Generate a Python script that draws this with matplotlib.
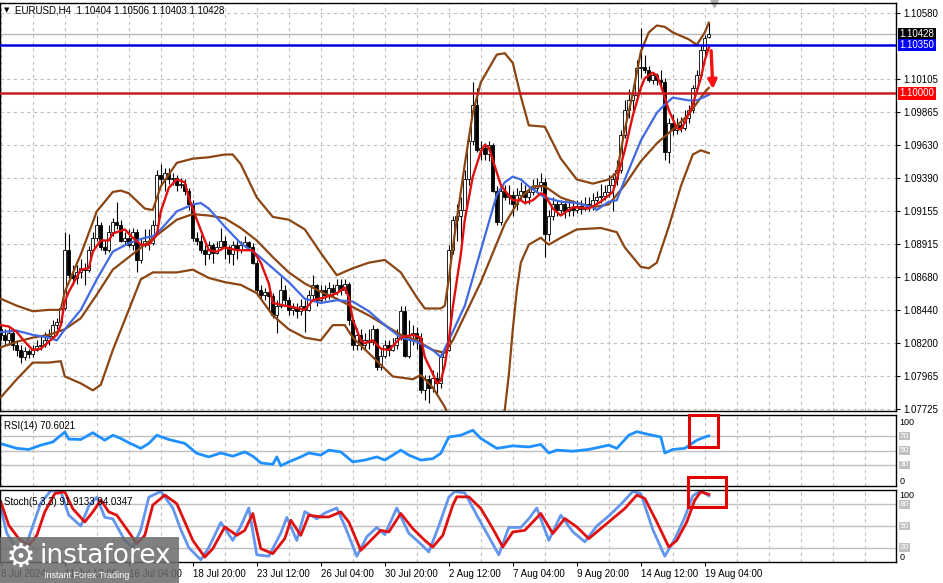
import matplotlib.pyplot as plt
from matplotlib.patches import Rectangle
from matplotlib.transforms import blended_transform_factory

plt.rcParams['font.family'] = ['Liberation Sans', 'DejaVu Sans']

# EURUSD H4 candles, bar 0 = 8 Jul 2024 20:00
opens = [1.0830, 1.0826, 1.0822, 1.0827, 1.0819, 1.0815, 1.0810, 1.0814, 1.0812, 1.0815,
         1.0818, 1.0819, 1.0822, 1.0825, 1.0833, 1.0835, 1.0845, 1.0887, 1.0869, 1.0867,
         1.0871, 1.0874, 1.0873, 1.0887, 1.0896, 1.0905, 1.0889, 1.0887, 1.0900, 1.0907,
         1.0905, 1.0894, 1.0896, 1.0891, 1.0900, 1.0880, 1.0891, 1.0894, 1.0892, 1.0905,
         1.0941, 1.0938, 1.0943, 1.0938, 1.0939, 1.0934, 1.0935, 1.0930, 1.0920, 1.0896,
         1.0894, 1.0887, 1.0884, 1.0891, 1.0885, 1.0889, 1.0894, 1.0889, 1.0884, 1.0891,
         1.0887, 1.0891, 1.0893, 1.0889, 1.0878, 1.0858, 1.0855, 1.0857, 1.0854, 1.0840,
         1.0847, 1.0858, 1.0851, 1.0844, 1.0845, 1.0843, 1.0847, 1.0844, 1.0855, 1.0862,
         1.0851, 1.0858, 1.0855, 1.0860, 1.0857, 1.0862, 1.0858, 1.0863, 1.0837, 1.0819,
         1.0826, 1.0819, 1.0822, 1.0821, 1.0830, 1.0803, 1.0811, 1.0819, 1.0815, 1.0819,
         1.0824, 1.0843, 1.0811, 1.0826, 1.0827, 1.0824, 1.0786, 1.0794, 1.0788, 1.0795,
         1.0791, 1.0810, 1.0815, 1.0887, 1.0909, 1.0912, 1.0916, 1.0938, 1.0966, 1.0992,
         1.0959, 1.0961, 1.0956, 1.0963, 1.0930, 1.0907, 1.0930, 1.0925, 1.0927, 1.0920,
         1.0927, 1.0930, 1.0925, 1.0929, 1.0932, 1.0934, 1.0936, 1.0899, 1.0912, 1.0920,
         1.0916, 1.0920, 1.0915, 1.0918, 1.0916, 1.0919, 1.0917, 1.0920, 1.0918, 1.0923,
         1.0925, 1.0926, 1.0929, 1.0934, 1.0938, 1.0945, 1.0970, 1.0988, 1.0995, 1.0999,
         1.1018, 1.1019, 1.1017, 1.1010, 1.1013, 1.1010, 1.1008, 1.0958, 1.0979, 1.0974,
         1.0977, 1.0975, 1.0982, 1.0988, 1.1004, 1.1013, 1.1031, 1.10404]
highs = [1.0833, 1.0830, 1.0831, 1.0830, 1.0822, 1.0819, 1.0817, 1.0816, 1.0819, 1.0822,
         1.0826, 1.0828, 1.0830, 1.0837, 1.0838, 1.0849, 1.0900, 1.0899, 1.0876, 1.0876,
         1.0881, 1.0878, 1.0890, 1.0900, 1.0912, 1.0907, 1.0894, 1.0905, 1.0910, 1.0922,
         1.0909, 1.0900, 1.0902, 1.0903, 1.0902, 1.0896, 1.0902, 1.0902, 1.0909, 1.0945,
         1.0949, 1.0946, 1.0946, 1.0943, 1.0941, 1.0939, 1.0938, 1.0932, 1.0923, 1.0900,
         1.0898, 1.0891, 1.0894, 1.0892, 1.0894, 1.0903, 1.0897, 1.0891, 1.0894, 1.0894,
         1.0894, 1.0897, 1.0894, 1.0892, 1.0880, 1.0862, 1.0860, 1.0860, 1.0856, 1.0851,
         1.0868, 1.0862, 1.0853, 1.0849, 1.0849, 1.0852, 1.0851, 1.0858, 1.0869, 1.0863,
         1.0862, 1.0862, 1.0864, 1.0863, 1.0866, 1.0866, 1.0866, 1.0864, 1.0838, 1.0831,
         1.0830, 1.0827, 1.0830, 1.0833, 1.0831, 1.0815, 1.0822, 1.0822, 1.0824, 1.0830,
         1.0847, 1.0847, 1.0837, 1.0833, 1.0832, 1.0827, 1.0797, 1.0797, 1.0801, 1.0799,
         1.0814, 1.0819, 1.0891, 1.0912, 1.0920, 1.0925, 1.0945, 1.0974, 1.1008, 1.1004,
         1.0966, 1.0964, 1.0966, 1.0964, 1.0933, 1.0934, 1.0934, 1.0934, 1.0930, 1.0932,
         1.0936, 1.0934, 1.0932, 1.0938, 1.0939, 1.0943, 1.0939, 1.0916, 1.0925, 1.0923,
         1.0923, 1.0923, 1.0922, 1.0923, 1.0923, 1.0923, 1.0925, 1.0925, 1.0928, 1.0930,
         1.0935, 1.0934, 1.0941, 1.0943, 1.0952, 1.0974, 1.0995, 1.1003, 1.1006, 1.1024,
         1.1047, 1.1028, 1.1020, 1.1015, 1.1015, 1.1017, 1.1011, 1.0982, 1.0985, 1.0982,
         1.0983, 1.0988, 1.0992, 1.1006, 1.1017, 1.1035, 1.1042, 1.10506]
lows = [1.0822, 1.0819, 1.0819, 1.0815, 1.0811, 1.0806, 1.0808, 1.0809, 1.0810, 1.0814,
        1.0815, 1.0817, 1.0819, 1.0824, 1.0830, 1.0833, 1.0844, 1.0867, 1.0862, 1.0863,
        1.0867, 1.0862, 1.0871, 1.0886, 1.0894, 1.0887, 1.0884, 1.0886, 1.0897, 1.0902,
        1.0893, 1.0891, 1.0889, 1.0887, 1.0871, 1.0878, 1.0889, 1.0887, 1.0891, 1.0903,
        1.0934, 1.0930, 1.0935, 1.0934, 1.0930, 1.0932, 1.0927, 1.0916, 1.0894, 1.0891,
        1.0885, 1.0876, 1.0881, 1.0878, 1.0884, 1.0887, 1.0881, 1.0878, 1.0876, 1.0881,
        1.0885, 1.0889, 1.0887, 1.0877, 1.0855, 1.0852, 1.0851, 1.0844, 1.0838, 1.0827,
        1.0845, 1.0847, 1.0840, 1.0840, 1.0838, 1.0840, 1.0828, 1.0843, 1.0852, 1.0847,
        1.0849, 1.0851, 1.0852, 1.0853, 1.0855, 1.0855, 1.0856, 1.0833, 1.0815, 1.0815,
        1.0815, 1.0815, 1.0816, 1.0819, 1.0801, 1.0801, 1.0809, 1.0811, 1.0814, 1.0816,
        1.0822, 1.0810, 1.0809, 1.0819, 1.0816, 1.0784, 1.0779, 1.0777, 1.0785, 1.0783,
        1.0788, 1.0804, 1.0814, 1.0884, 1.0894, 1.0894, 1.0912, 1.0934, 1.0963, 1.0958,
        1.0952, 1.0952, 1.0951, 1.0929, 1.0905, 1.0905, 1.0923, 1.0920, 1.0912, 1.0916,
        1.0923, 1.0920, 1.0920, 1.0927, 1.0928, 1.0930, 1.0882, 1.0894, 1.0909, 1.0912,
        1.0914, 1.0910, 1.0912, 1.0912, 1.0914, 1.0913, 1.0915, 1.0915, 1.0916, 1.0920,
        1.0921, 1.0923, 1.0925, 1.0915, 1.0934, 1.0943, 1.0968, 1.0982, 1.0985, 1.0995,
        1.1011, 1.1015, 1.1008, 1.1007, 1.1006, 1.1003, 1.0952, 1.0950, 1.0970, 1.0971,
        1.0972, 1.0974, 1.0979, 1.0986, 1.1001, 1.1011, 1.1028, 1.10403]
closes = [1.0826, 1.0822, 1.0827, 1.0819, 1.0815, 1.0810, 1.0814, 1.0812, 1.0815, 1.0818,
          1.0819, 1.0822, 1.0825, 1.0833, 1.0835, 1.0845, 1.0887, 1.0869, 1.0867, 1.0871,
          1.0874, 1.0873, 1.0887, 1.0896, 1.0905, 1.0889, 1.0887, 1.0900, 1.0907, 1.0905,
          1.0894, 1.0896, 1.0891, 1.0900, 1.0880, 1.0891, 1.0894, 1.0892, 1.0905, 1.0941,
          1.0938, 1.0943, 1.0938, 1.0939, 1.0934, 1.0935, 1.0930, 1.0920, 1.0896, 1.0894,
          1.0887, 1.0884, 1.0891, 1.0885, 1.0889, 1.0894, 1.0889, 1.0884, 1.0891, 1.0887,
          1.0891, 1.0893, 1.0889, 1.0878, 1.0858, 1.0855, 1.0857, 1.0854, 1.0840, 1.0847,
          1.0858, 1.0851, 1.0844, 1.0845, 1.0843, 1.0847, 1.0844, 1.0855, 1.0862, 1.0851,
          1.0858, 1.0855, 1.0860, 1.0857, 1.0862, 1.0858, 1.0863, 1.0837, 1.0819, 1.0826,
          1.0819, 1.0822, 1.0821, 1.0830, 1.0803, 1.0811, 1.0819, 1.0815, 1.0819, 1.0824,
          1.0843, 1.0811, 1.0826, 1.0827, 1.0824, 1.0786, 1.0794, 1.0788, 1.0795, 1.0791,
          1.0810, 1.0815, 1.0887, 1.0909, 1.0912, 1.0916, 1.0938, 1.0966, 1.0992, 1.0959,
          1.0961, 1.0956, 1.0963, 1.0930, 1.0907, 1.0930, 1.0925, 1.0927, 1.0920, 1.0927,
          1.0930, 1.0925, 1.0929, 1.0932, 1.0934, 1.0936, 1.0899, 1.0912, 1.0920, 1.0916,
          1.0920, 1.0915, 1.0918, 1.0916, 1.0919, 1.0917, 1.0920, 1.0918, 1.0923, 1.0925,
          1.0926, 1.0929, 1.0934, 1.0938, 1.0945, 1.0970, 1.0988, 1.0995, 1.0999, 1.1018,
          1.1019, 1.1017, 1.1010, 1.1013, 1.1010, 1.1008, 1.0958, 1.0979, 1.0974, 1.0977,
          1.0975, 1.0982, 1.0988, 1.1004, 1.1013, 1.1031, 1.1040, 1.10428]

# Bollinger bands (brown)
bb_up_x = [0, 4, 8, 12, 15, 16, 20, 24, 28, 30, 32, 36, 38, 40, 44, 48, 52, 56, 58, 60,
           64, 68, 72, 76, 80, 84, 88, 92, 96, 100, 104, 106, 108, 110, 111, 112, 113, 116, 118, 120,
           124, 126, 128, 130, 132, 136, 140, 144, 148, 152, 154, 156, 158, 160, 162, 164, 166, 168, 172, 174,
           176, 177]
bb_up = [1.0852, 1.0847, 1.0843, 1.0844, 1.0844, 1.0857, 1.0884, 1.0915, 1.0929, 1.0930,
         1.0928, 1.0917, 1.0916, 1.0933, 1.0950, 1.0953, 1.0954, 1.0956, 1.0956, 1.0949,
         1.0925, 1.0911, 1.0909, 1.0902, 1.0885, 1.0869, 1.0874, 1.0878, 1.0880, 1.0871,
         1.0853, 1.0845, 1.0845, 1.0845, 1.0847, 1.0866, 1.0889, 1.0949, 1.0986, 1.1008,
         1.1028, 1.1029, 1.1022, 1.0998, 1.0977, 1.0976, 1.0953, 1.0938, 1.0935, 1.0938,
         1.0943, 1.0974, 1.1000, 1.1030, 1.1044, 1.1049, 1.1048, 1.1044, 1.1039, 1.1035,
         1.1044, 1.1051]
bb_mid_x = [0, 4, 8, 12, 16, 20, 24, 28, 32, 36, 40, 44, 48, 52, 56, 60, 64, 68, 72, 76,
            80, 84, 88, 92, 96, 100, 104, 108, 111, 113, 116, 120, 123, 126, 130, 133, 136, 140, 144, 148,
            152, 156, 160, 164, 168, 172, 176, 177]
bb_mid = [1.0817, 1.0821, 1.0824, 1.0826, 1.0830, 1.0838, 1.0855, 1.0873, 1.0882, 1.0891,
          1.0900, 1.0909, 1.0913, 1.0912, 1.0910, 1.0903, 1.0894, 1.0882, 1.0871, 1.0863,
          1.0857, 1.0852, 1.0846, 1.0840, 1.0833, 1.0826, 1.0822, 1.0815, 1.0813, 1.0822,
          1.0840, 1.0864, 1.0885, 1.0906, 1.0925, 1.0933, 1.0933, 1.0925, 1.0921, 1.0918,
          1.0920, 1.0934, 1.0951, 1.0964, 1.0974, 1.0985, 1.1001, 1.1004]
bb_low_x = [0, 4, 8, 12, 15, 16, 20, 23, 25, 28, 32, 35, 38, 44, 48, 52, 56, 60, 64, 68,
            72, 76, 80, 83, 86, 88, 93, 98, 103, 105, 108, 111, 113, 116, 120, 124, 126, 127, 128, 129,
            130, 132, 135, 137, 140, 144, 150, 154, 156, 160, 162, 164, 167, 170, 173, 175, 177]
bb_low = [1.0781, 1.0794, 1.0806, 1.0806, 1.0807, 1.0796, 1.0791, 1.0786, 1.0790, 1.0815,
          1.0844, 1.0866, 1.0871, 1.0871, 1.0873, 1.0867, 1.0864, 1.0862, 1.0856, 1.0840,
          1.0830, 1.0824, 1.0822, 1.0833, 1.0833, 1.0824, 1.0810, 1.0796, 1.0794, 1.0797,
          1.0788, 1.0774, 1.0760, 1.0728, 1.0705, 1.0735, 1.0772, 1.0797, 1.0830, 1.0858,
          1.0878, 1.0891, 1.0896, 1.0891, 1.0896, 1.0902, 1.0903, 1.0900, 1.0889, 1.0875,
          1.0874, 1.0878, 1.0904, 1.0933, 1.0956, 1.0959, 1.0957]

# moving averages
ma_blue_x = [0, 4, 8, 12, 14, 16, 20, 24, 28, 30, 32, 36, 38, 40, 44, 48, 50, 52, 56, 60,
             64, 68, 72, 76, 80, 84, 88, 92, 96, 100, 104, 108, 110, 112, 116, 120, 124, 126, 128, 130,
             132, 136, 140, 144, 148, 149, 152, 154, 156, 160, 164, 166, 168, 172, 174, 177]
ma_blue = [1.0828, 1.0829, 1.0826, 1.0824, 1.0822, 1.0830, 1.0844, 1.0866, 1.0886, 1.0889,
           1.0892, 1.0896, 1.0897, 1.0902, 1.0915, 1.0920, 1.0921, 1.0917, 1.0904, 1.0892,
           1.0884, 1.0874, 1.0864, 1.0852, 1.0849, 1.0851, 1.0850, 1.0843, 1.0833, 1.0824,
           1.0821, 1.0815, 1.0810, 1.0822, 1.0847, 1.0887, 1.0927, 1.0936, 1.0940, 1.0938,
           1.0933, 1.0925, 1.0922, 1.0921, 1.0918, 1.0916, 1.0922, 1.0923, 1.0938, 1.0966,
           1.0986, 1.0992, 1.0997, 1.0995, 1.0995, 1.0999]
ma_red_x = [0, 2, 4, 6, 8, 10, 12, 14, 15, 16, 17, 20, 22, 23, 25, 27, 28, 31, 33, 35,
            37, 39, 40, 42, 44, 46, 47, 49, 51, 52, 54, 56, 59, 63, 65, 67, 68, 71, 73, 76,
            78, 81, 84, 86, 87, 88, 90, 91, 93, 95, 97, 100, 103, 105, 106, 108, 109, 110, 111, 112,
            113, 115, 116, 118, 120, 121, 122, 123, 125, 126, 128, 130, 131, 133, 135, 136, 138, 140, 143, 147,
            150, 153, 154, 156, 158, 160, 161, 163, 164, 165, 167, 169, 170, 171, 173, 175, 176, 177]
ma_red = [1.0833, 1.0832, 1.0828, 1.0821, 1.0815, 1.0816, 1.0821, 1.0826, 1.0833, 1.0850,
          1.0857, 1.0873, 1.0874, 1.0886, 1.0894, 1.0894, 1.0899, 1.0902, 1.0896, 1.0891,
          1.0891, 1.0898, 1.0915, 1.0932, 1.0938, 1.0936, 1.0925, 1.0909, 1.0894, 1.0887,
          1.0886, 1.0889, 1.0887, 1.0887, 1.0878, 1.0863, 1.0849, 1.0847, 1.0846, 1.0844,
          1.0851, 1.0853, 1.0856, 1.0860, 1.0853, 1.0837, 1.0822, 1.0820, 1.0822, 1.0816,
          1.0815, 1.0824, 1.0826, 1.0824, 1.0810, 1.0798, 1.0791, 1.0793, 1.0804, 1.0822,
          1.0846, 1.0884, 1.0909, 1.0940, 1.0958, 1.0963, 1.0961, 1.0952, 1.0934, 1.0930,
          1.0923, 1.0923, 1.0921, 1.0923, 1.0928, 1.0927, 1.0917, 1.0912, 1.0918, 1.0917,
          1.0922, 1.0929, 1.0938, 1.0959, 1.0984, 1.1004, 1.1011, 1.1015, 1.1013, 1.1006,
          1.0988, 1.0975, 1.0974, 1.0979, 1.0992, 1.1011, 1.1024, 1.1033]

# RSI(14)
rsi_x = [0, 4, 7, 10, 13, 16, 17, 20, 23, 26, 28, 30, 32, 35, 37, 39, 42, 46, 49, 52,
         55, 58, 61, 63, 65, 68, 69, 70, 72, 75, 77, 80, 82, 85, 88, 91, 94, 96, 100, 102,
         105, 108, 110, 112, 115, 118, 120, 124, 128, 132, 135, 137, 139, 143, 147, 152, 154, 157, 159, 162,
         165, 166, 168, 171, 174, 176, 177]
rsi = [59.7, 53, 51.5, 57.5, 62, 76, 66, 65.5, 75, 64.5, 71.5, 67, 61, 53, 60, 71.5, 65.5, 60, 46, 41,
       46.5, 42, 48, 42, 32.5, 30.5, 41, 28.5, 34, 41, 46.5, 43.5, 50.5, 48, 34, 36.5, 41, 36.5, 50.5, 43.5,
       36.5, 38.5, 46, 69, 71.5, 78.5, 67, 53, 56.5, 55, 58.5, 46.5, 50.5, 49, 51.5, 57.5, 53, 71.5, 76.5, 72.5,
       69, 46.5, 51.5, 53, 64.5, 69, 70.6]

# Stochastic(5,3,3): main (blue) and signal (red)
stoch_k_x = [0, 1.5, 3.5, 6, 8, 10, 12.5, 15, 17, 20, 22, 24, 26, 28, 31, 33, 35, 37, 40, 43,
             45, 47, 50, 52, 55, 58, 60, 62, 64, 67, 70, 71.5, 74, 76, 79, 81, 84, 86, 89, 91.5,
             94, 96, 99, 102, 105, 107, 109.5, 112, 113.5, 116, 119, 122, 124.5, 127, 130, 132, 134, 137, 140, 143,
             146, 149, 152, 155, 158, 160, 163, 166, 168.5, 171, 173, 175, 177]
stoch_k = [75, 40, 22, 18, 50, 82, 99, 98, 65, 50, 78, 90, 62, 60, 30, 20, 45, 90, 98, 75,
           45, 20, 3, 20, 55, 30, 50, 75, 10, 8, 40, 62, 30, 70, 60, 68, 75, 50, 8, 35,
           48, 38, 75, 40, 25, 14, 50, 90, 98, 96, 65, 35, 10, 48, 48, 60, 75, 30, 65, 42,
           28, 50, 64, 80, 98, 95, 45, 8, 32, 62, 92, 99, 91.9]
stoch_d_x = [0, 2, 4.5, 7, 9, 11, 13.5, 16, 18, 21, 23, 25, 27, 29, 32, 34, 36, 38, 41, 44,
             46, 48, 51, 53, 56, 59, 61, 63, 65, 68, 71, 72.5, 75, 77, 80, 82, 85, 87, 90, 92.5,
             95, 97, 100, 103, 106, 108, 110.5, 113, 114, 117, 120, 123, 125.5, 128, 131, 133, 135, 138, 141, 144,
             147, 150, 153, 156, 159, 161, 164, 167, 169, 171.5, 173.5, 175, 177]
stoch_d = [83.5, 51, 32.5, 23, 37, 69.6, 95, 97.5, 74, 55.6, 69.6, 86, 69.6, 65, 41.7, 25.5, 37, 79, 93, 81,
           55.6, 30, 6.8, 18.5, 48.7, 37, 44, 67.4, 18.5, 11.6, 32.5, 58, 37, 65, 62.6, 62.6, 69.6, 55.6, 16.2, 30,
           44, 41.7, 67.4, 46.4, 30, 20.8, 37, 79, 90.5, 90.5, 74.3, 46.4, 20.8, 41.7, 44, 55.6, 67.4, 39.5, 60.4, 48.7,
           32.5, 46.4, 60.4, 74.3, 92.9, 88.3, 55.6, 20.8, 30, 55.6, 86, 97.5, 94.0]

price_ticks = [1.07725, 1.07965, 1.08200, 1.08440, 1.08680, 1.08915, 1.09155,
               1.09390, 1.09630, 1.09865, 1.10105, 1.10580]
time_bars = [0, 16, 32, 48, 64, 80, 96, 112, 128, 144, 160, 176]
time_labels = ['8 Jul 2024', '11 Jul 12:00', '16 Jul 04:00', '18 Jul 20:00', '23 Jul 12:00',
               '26 Jul 04:00', '30 Jul 20:00', '2 Aug 12:00', '7 Aug 04:00', '9 Aug 20:00',
               '14 Aug 12:00', '19 Aug 04:00']
resistance = 1.10350
support = 1.10000
bid = 1.10428
rsi_levels = [70, 50, 30]
stoch_levels = [80, 50, 20]

BROWN = '#8B4513'
GRID = '#C0C0C0'
W, H = 943, 583
fig = plt.figure(figsize=(W / 100, H / 100), dpi=100)


def panel(top, bottom):
    return fig.add_axes([0, 1 - bottom / H, 896 / W, (bottom - top) / H])


ax = panel(3, 411)
ax_rsi = panel(415, 486)
ax_st = panel(490, 562)

for a in (ax, ax_rsi, ax_st):
    a.set_xlim(-0.2, 223.8)
    a.set_xticks(range(0, 224, 8), minor=True)
    a.grid(True, which='minor', axis='x', color=GRID, ls=(0, (3, 3)), lw=0.8)
    a.tick_params(axis='x', which='both', length=0)
    a.set_xticks([])
    for s in a.spines.values():
        s.set_color('black')
        s.set_linewidth(1)

# ---- main price panel ----
ax.set_ylim(1.07711, 1.10652)
ax.yaxis.tick_right()
ax.set_yticks(price_ticks)
ax.set_yticklabels([f'{p:.5f}' for p in price_ticks])
ax.tick_params(axis='y', length=3, labelsize=7, pad=2)
ax.grid(True, which='major', axis='y', color=GRID, ls=(0, (3, 3)), lw=0.8)
ax.set_axisbelow(True)

x = list(range(len(closes)))
ax.vlines(x, lows, highs, color='black', lw=0.8, zorder=2)
body_h = [max(abs(c - o), 0.00003) for o, c in zip(opens, closes)]
body_b = [min(o, c) for o, c in zip(opens, closes)]
body_c = ['white' if c >= o else 'black' for o, c in zip(opens, closes)]
ax.bar(x, body_h, bottom=body_b, width=0.7, color=body_c, edgecolor='black', lw=0.6, zorder=3)

ax.axhline(bid, color='#B8B8B8', lw=1, zorder=1)
for xs, ys in ((bb_up_x, bb_up), (bb_mid_x, bb_mid), (bb_low_x, bb_low)):
    ax.plot(xs, ys, color=BROWN, lw=1.6, zorder=4)
ax.plot(ma_blue_x, ma_blue, color='#4169E1', lw=1.6, zorder=5)
ax.plot(ma_red_x, ma_red, color='#E01010', lw=1.7, zorder=6)

ax.axhline(resistance, color='#0000DD', lw=1.8, zorder=7)
ax.axhline(support, color='#C41E1E', lw=1.8, zorder=7)
ax.annotate('', xy=(178.05, 1.10011), xytext=(177.55, 1.10328),
            arrowprops=dict(arrowstyle='-|>', color='#FF1010', lw=2.4, mutation_scale=13), zorder=8)

tr = blended_transform_factory(ax.transAxes, ax.transData)
for val, fc in ((bid, 'black'), (resistance, '#0000FF'), (support, '#FF0000')):
    ax.text(1.004, val, f'{val:.5f}', transform=tr, ha='left', va='center', fontsize=7,
            color='white', zorder=9, clip_on=False,
            bbox=dict(boxstyle='square,pad=0.12', fc=fc, ec='none'))

ax.text(0.005, 0.982, '\u25bc', transform=ax.transAxes, fontsize=5, va='center',
        family=['DejaVu Sans'])
ax.text(0.017, 0.982, 'EURUSD,H4  1.10404 1.10506 1.10403 1.10428', transform=ax.transAxes,
        fontsize=7, va='center')
ax.plot([178.4], [1.0], marker='v', color='#B0B0B0', ms=6,
        transform=blended_transform_factory(ax.transData, ax.transAxes), clip_on=False)

# ---- RSI panel ----
ax_rsi.set_ylim(0, 100)
ax_rsi.set_yticks([])
for lv in rsi_levels:
    ax_rsi.axhline(lv, color=GRID, lw=1)
ax_rsi.plot(rsi_x, rsi, color='#1E90FF', lw=2)
ax_rsi.text(0.004, 0.84, 'RSI(14) 70.6021', transform=ax_rsi.transAxes, fontsize=7, va='center')

# ---- Stochastic panel ----
ax_st.set_ylim(0, 100)
ax_st.set_yticks([])
for lv in stoch_levels:
    ax_st.axhline(lv, color=GRID, lw=1)
ax_st.plot(stoch_k_x, stoch_k, color='#6495ED', lw=2)
ax_st.plot(stoch_d_x, stoch_d, color='#E01010', lw=2)
ax_st.text(0.004, 0.84, 'Stoch(5,3,3) 91.9133 94.0347', transform=ax_st.transAxes,
           fontsize=7, va='center')
ax_st.set_xticks(time_bars)
ax_st.set_xticklabels(time_labels, ha='left', fontsize=7)
ax_st.tick_params(axis='x', which='major', length=3, pad=2)

for a, levels, top_y, bot_y in ((ax_rsi, rsi_levels, 0.90, 0.07), (ax_st, stoch_levels, 0.92, 0.06)):
    trr = blended_transform_factory(a.transAxes, a.transData)
    a.text(1.004, top_y * 100, '100', transform=trr, fontsize=6.5, va='center', clip_on=False)
    a.text(1.004, bot_y * 100, '0', transform=trr, fontsize=6.5, va='center', clip_on=False)
    for lv in levels:
        a.text(1.004, lv, str(lv), transform=trr, fontsize=6, va='center', color='white',
               clip_on=False, bbox=dict(boxstyle='square,pad=0.08', fc='#C0C0C0', ec='none'))

# highlight boxes
fig.add_artist(Rectangle((689 / W, 1 - 447 / H), 29 / W, 32 / H, transform=fig.transFigure,
                         fill=False, ec='#E00000', lw=2.2))
fig.add_artist(Rectangle((688 / W, 1 - 507 / H), 38 / W, 30 / H, transform=fig.transFigure,
                         fill=False, ec='#E00000', lw=2.2))

# watermark
fig.add_artist(Rectangle((0, 0), 179 / W, 46 / H, transform=fig.transFigure,
                         fc='#6A6A6A', ec='none', alpha=0.85))
fig.text(21 / W, 1 - 557 / H, '\u2699', fontsize=24, color='white', ha='center', va='center',
         family=['DejaVu Sans'])
fig.text(40 / W, 1 - 556 / H, 'instaforex', fontsize=19, color='white', va='center',
         family=['DejaVu Sans'])
fig.text(44 / W, 1 - 575 / H, 'Instant Forex Trading', fontsize=6.5, color='white', va='center')

fig.savefig('out.png', dpi=100, facecolor='white')
